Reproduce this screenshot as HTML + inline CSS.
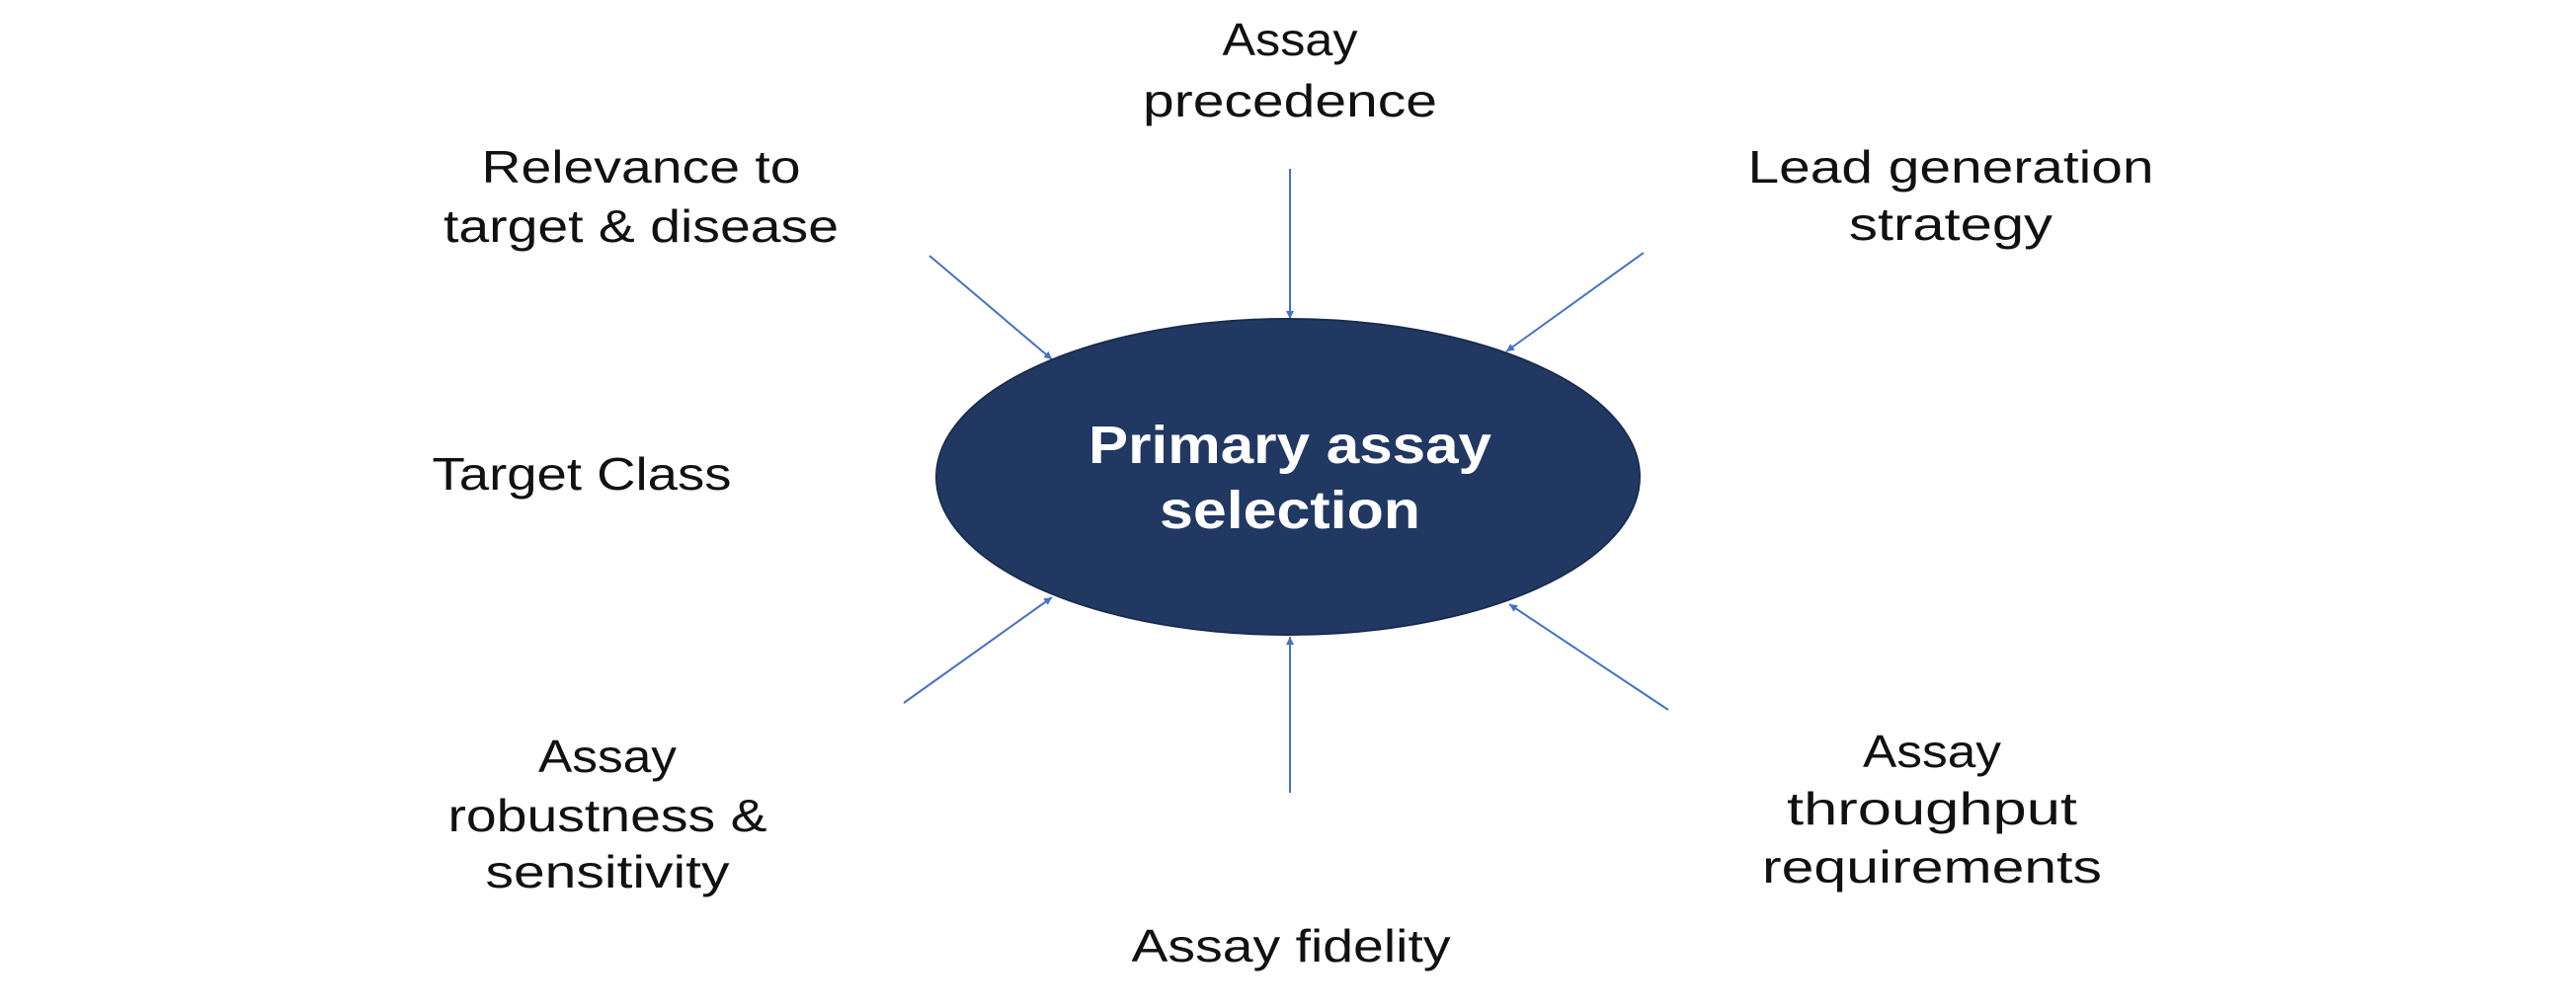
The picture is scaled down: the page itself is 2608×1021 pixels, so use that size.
<!DOCTYPE html>
<html><head><meta charset="utf-8"><style>
html,body{margin:0;padding:0;background:#fff;}
svg{display:block;}
text{font-family:"Liberation Sans",sans-serif;fill:#111;font-size:46px;text-anchor:middle;}
</style></head><body>
<svg width="2608" height="1021" viewBox="0 0 2608 1021" xmlns="http://www.w3.org/2000/svg">
<defs>
<marker id="a" viewBox="0 0 10 10" refX="10" refY="5" markerWidth="8" markerHeight="8" markerUnits="userSpaceOnUse" orient="auto">
<path d="M0,0 L10,5 L0,10 z" fill="#4472C4"/>
</marker>
</defs>
<g stroke="#4472C4" stroke-width="2" marker-end="url(#a)">
<line x1="1306" y1="171" x2="1306" y2="323"/>
<line x1="941" y1="259" x2="1065" y2="364"/>
<line x1="1664" y1="256" x2="1525" y2="356"/>
<line x1="915" y1="712" x2="1065" y2="605"/>
<line x1="1306" y1="803" x2="1306" y2="645"/>
<line x1="1689" y1="719" x2="1528" y2="612"/>
</g>
<ellipse cx="1304" cy="483" rx="356" ry="160" fill="#213862" stroke="#1a2d50" stroke-width="2"/>
<text x="1306" y="469" style="fill:#fff;font-weight:bold;font-size:54px" textLength="408" lengthAdjust="spacingAndGlyphs">Primary assay</text>
<text x="1306" y="535" style="fill:#fff;font-weight:bold;font-size:54px" textLength="264" lengthAdjust="spacingAndGlyphs">selection</text>

<text x="1306" y="56" textLength="137" lengthAdjust="spacingAndGlyphs">Assay</text>
<text x="1306" y="118" textLength="298" lengthAdjust="spacingAndGlyphs">precedence</text>

<text x="649" y="185" textLength="323" lengthAdjust="spacingAndGlyphs">Relevance to</text>
<text x="649" y="245" textLength="400" lengthAdjust="spacingAndGlyphs">target &amp; disease</text>

<text x="1975" y="185" textLength="411" lengthAdjust="spacingAndGlyphs">Lead generation</text>
<text x="1975" y="243" textLength="206" lengthAdjust="spacingAndGlyphs">strategy</text>

<text x="589" y="496" textLength="303" lengthAdjust="spacingAndGlyphs">Target Class</text>

<text x="615" y="782" textLength="140" lengthAdjust="spacingAndGlyphs">Assay</text>
<text x="615" y="842" textLength="323" lengthAdjust="spacingAndGlyphs">robustness &amp;</text>
<text x="615" y="899" textLength="247" lengthAdjust="spacingAndGlyphs">sensitivity</text>

<text x="1956" y="777" textLength="140" lengthAdjust="spacingAndGlyphs">Assay</text>
<text x="1956" y="835" textLength="294" lengthAdjust="spacingAndGlyphs">throughput</text>
<text x="1956" y="894" textLength="344" lengthAdjust="spacingAndGlyphs">requirements</text>

<text x="1307" y="974" textLength="323" lengthAdjust="spacingAndGlyphs">Assay fidelity</text>
</svg>
</body></html>
